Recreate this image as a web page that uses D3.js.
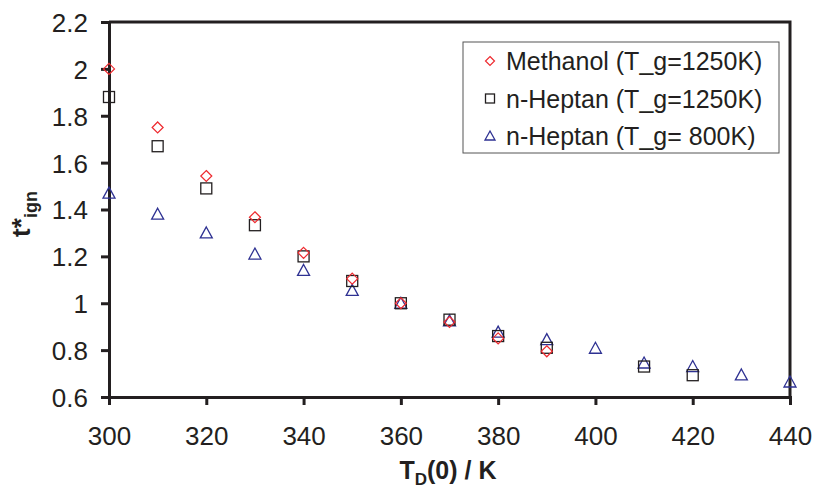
<!DOCTYPE html>
<html>
<head>
<meta charset="utf-8">
<script src="https://cdn.jsdelivr.net/npm/d3@7"></script>
<style>
  body { margin: 0; background: #fff; }
  text { font-family: "Liberation Sans", Arial, sans-serif; fill: #231f20; }
</style>
</head>
<body>
<div id="chart-area"></div>
<script>
// data
var tempsMeth = [300, 310, 320, 330, 340, 350, 360, 370, 380, 390];
var methanol = [2.0, 1.75, 1.543, 1.367, 1.215, 1.105, 1.0, 0.92, 0.85, 0.795];
var tempsHep = [300, 310, 320, 330, 340, 350, 360, 370, 380, 390, 410, 420];
var heptan1250 = [1.88, 1.67, 1.49, 1.333, 1.2, 1.095, 1.0, 0.93, 0.86, 0.81, 0.73, 0.693];
var tempsHep800 = [300, 310, 320, 330, 340, 350, 360, 370, 380, 390, 400, 410, 420, 430, 440];
var heptan800 = [1.47, 1.38, 1.3, 1.21, 1.14, 1.055, 1.0, 0.925, 0.877, 0.845, 0.808, 0.745, 0.73, 0.694, 0.664];
var xTicks = [300, 320, 340, 360, 380, 400, 420, 440];
var yTicks = [0.6, 0.8, 1, 1.2, 1.4, 1.6, 1.8, 2, 2.2];
var legendLabels = ["Methanol (T_g=1250K)", "n-Heptan (T_g=1250K)", "n-Heptan (T_g= 800K)"];

var margin = {left: 109, right: 25, top: 22, bottom: 96};
var width = 815 - margin.left - margin.right;
var height = 493 - margin.top - margin.bottom;

var svg = d3.select("#chart-area").append("svg")
  .attr("width", 815)
  .attr("height", 493);
var g = svg.append("g")
  .attr("transform", "translate(" + margin.left + ", " + margin.top + ")");

var x = d3.scaleLinear().domain([300, 440]).range([0, width]);
var y = d3.scaleLinear().domain([0.6, 2.2]).range([height, 0]);

// frame (top and right)
g.append("path")
  .attr("d", "M0,0H" + width + "V" + height)
  .attr("fill", "none")
  .attr("stroke", "#231f20")
  .attr("stroke-width", 3);

var xAxis = g.append("g")
  .attr("transform", "translate(0, " + height + ")")
  .call(d3.axisBottom(x).tickValues(xTicks).tickSize(8).tickPadding(22).tickFormat(d3.format("d")));
var yAxis = g.append("g")
  .call(d3.axisLeft(y).tickValues(yTicks).tickSize(8).tickPadding(13).tickFormat(d3.format("")));

[xAxis, yAxis].forEach((a) => {
  a.select(".domain").attr("stroke", "#231f20").attr("stroke-width", 3);
  a.selectAll(".tick line").attr("stroke", "#231f20").attr("stroke-width", 3);
  a.selectAll(".tick text")
    .attr("font-size", "26px")
    .attr("font-family", "Liberation Sans, Arial, sans-serif")
    .attr("fill", "#231f20");
});
yAxis.selectAll(".tick text").attr("dy", "0.36em");

// axis labels
var xLabel = svg.append("text")
  .attr("x", 448)
  .attr("y", 479)
  .attr("text-anchor", "middle")
  .attr("font-size", "25px")
  .attr("font-weight", "bold");
xLabel.append("tspan").text("T");
xLabel.append("tspan").attr("dy", 6).attr("font-size", "17px").text("D");
xLabel.append("tspan").attr("dy", -6).text("(0) / K");

var yLabel = svg.append("text")
  .attr("transform", "translate(30, 214) rotate(-90)")
  .attr("text-anchor", "middle")
  .attr("font-size", "26px")
  .attr("font-weight", "bold");
yLabel.append("tspan").text("t*");
yLabel.append("tspan").attr("dy", 7).attr("font-size", "18px").text("ign");

// markers
function diamond(sel, color, r) {
  sel.append("path").attr("d", "M0,-" + r + "L" + r + ",0L0," + r + "L-" + r + ",0Z")
    .attr("fill", "none").attr("stroke", color).attr("stroke-width", 1.2);
}
function square(sel, color, r) {
  sel.append("rect").attr("x", -r).attr("y", -r).attr("width", 2 * r).attr("height", 2 * r)
    .attr("fill", "none").attr("stroke", color).attr("stroke-width", 1.3);
}
function triangle(sel, color, r) {
  sel.append("path").attr("d", "M0,-" + (r + 0.5) + "L" + (r + 0.5) + "," + (r - 0.5) + "L-" + (r + 0.5) + "," + (r - 0.5) + "Z")
    .attr("fill", "none").attr("stroke", color).attr("stroke-width", 1.3);
}

var colors = ["#ee2a2f", "#231f20", "#2e3192"];
var shapes = [diamond, square, triangle];
var series = [
  {t: tempsHep800, v: heptan800},
  {t: tempsHep, v: heptan1250},
  {t: tempsMeth, v: methanol}
];
var order = [2, 1, 0];

series.forEach((s, k) => {
  var idx = order[k];
  g.append("g").selectAll("g")
    .data(s.t.map((t, i) => ({t: t, v: s.v[i]})))
    .enter().append("g")
    .attr("transform", (d) => "translate(" + x(d.t) + "," + y(d.v) + ")")
    .each(function () { shapes[idx](d3.select(this), colors[idx], 5.5); });
});

// legend
var legend = svg.append("g").attr("transform", "translate(463, 42)");
legend.append("rect")
  .attr("width", 316).attr("height", 111)
  .attr("fill", "#fff").attr("stroke", "#555").attr("stroke-width", 1);
legendLabels.forEach((lab, i) => {
  var row = legend.append("g").attr("transform", "translate(0," + (19 + i * 37.5) + ")");
  var m = row.append("g").attr("transform", "translate(27,0)");
  shapes[i](m, colors[i], 4.5);
  row.append("text")
    .attr("x", 43).attr("y", 0).attr("dy", "0.36em")
    .attr("font-size", "25px")
    .text(lab);
});
</script>
</body>
</html>
